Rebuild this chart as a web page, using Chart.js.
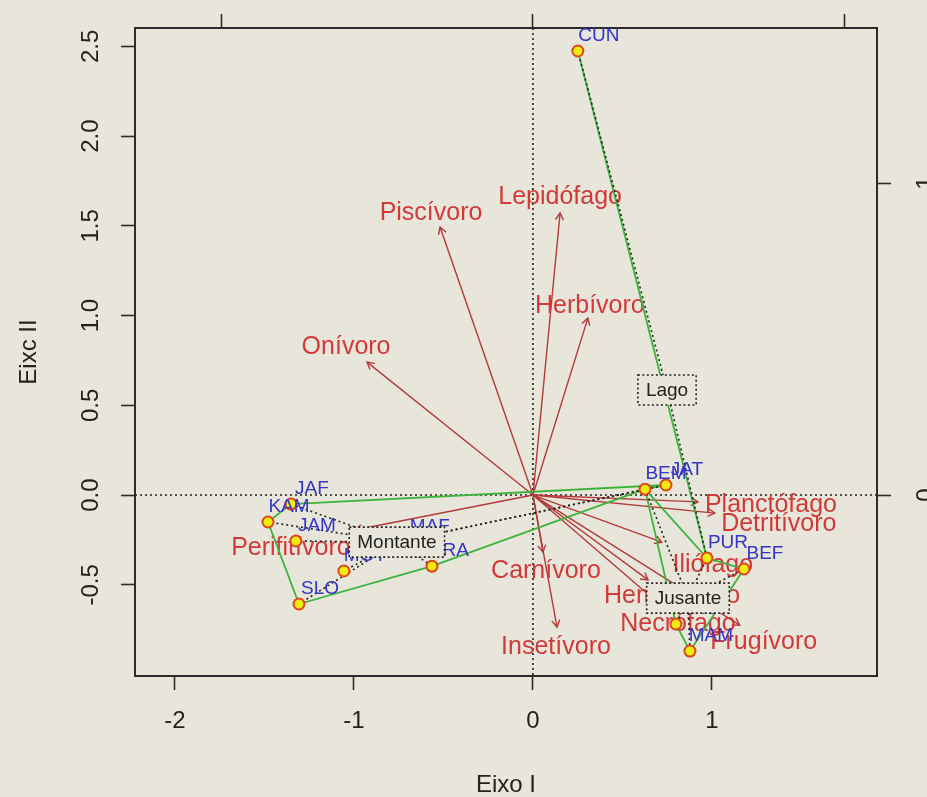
<!DOCTYPE html>
<html>
<head>
<meta charset="utf-8">
<script src="https://cdn.jsdelivr.net/npm/chart.js@4/dist/chart.umd.min.js"></script>
<style>
  html, body { margin: 0; padding: 0; background: #e8e6da; }
  #wrap { width: 927px; height: 797px; position: relative; }
</style>
</head>
<body>
<div id="wrap"><canvas id="c" width="927" height="797"></canvas></div>
<script>
// Site scores on axes I and II
const siteNames = ['CUN', 'BEM', 'JAT', 'PUR', 'BEF', 'MAC', 'MAM', 'KAM', 'JAF', 'JAM', 'MOT', 'SLO', 'IRA', 'MAF'];
const siteX = [0.251, 0.626, 0.743, 0.972, 1.179, 0.799, 0.877, -1.480, -1.352, -1.324, -1.056, -1.307, -0.564, -0.693];
const siteY = [2.474, 0.033, 0.056, -0.351, -0.412, -0.719, -0.869, -0.150, -0.050, -0.256, -0.423, -0.607, -0.396, -0.262];

// Group positions (class centres) on axes I and II
const groupNames = ['Montante', 'Lago', 'Jusante'];
const groupX = [-0.760, 0.749, 0.866];
const groupY = [-0.262, 0.585, -0.574];

// Members of each group, and the outline joining the outer members
const groupMembers = [
  ['KAM', 'JAF', 'JAM', 'MOT', 'SLO', 'IRA', 'MAF', 'BEM', 'JAT'],
  ['CUN', 'PUR'],
  ['BEM', 'PUR', 'BEF', 'MAC', 'MAM']
];
const groupOutline = [
  ['KAM', 'JAF', 'JAT', 'BEM', 'IRA', 'SLO', 'KAM'],
  ['CUN', 'PUR'],
  ['BEM', 'PUR', 'BEF', 'MAM', 'MAC', 'BEM']
];

// Trophic guild vectors (read on the top / right axes)
const guildNames = ['Piscívoro', 'Lepidófago', 'Herbívoro', 'Onívoro', 'Planctófago', 'Detritívoro',
  'Iliófago', 'Hematófago', 'Necrófago', 'Frugívoro', 'Carnívoro', 'Insetívoro', 'Perifitívoro'];
const guildX = [-0.298, 0.087, 0.176, -0.532, 0.529, 0.583, 0.413, 0.369, 0.391, 0.663, 0.032, 0.077, -0.571];
const guildY = [0.859, 0.904, 0.567, 0.426, -0.022, -0.058, -0.151, -0.272, -0.337, -0.417, -0.183, -0.423, -0.112];

// Axis tick labels
const axis1Ticks = [-2, -1, 0, 1];
const axis2Ticks = [-0.5, 0.0, 0.5, 1.0, 1.5, 2.0, 2.5];
const vecTicksX = [-1, 0, 1];
const vecTicksY = [0, 1];

// ---- drawing settings ----
const BG = '#e8e6da';
const FONT = '"Liberation Sans", Arial, sans-serif';
const AXIS_COL = '#2b2b2b';
const RED_LINE = '#b33a3a';
const RED_TEXT = '#d23a3a';
const BLUE_TEXT = '#3434c6';
const GREEN = '#3cb43c';

// label placement around each vector tip, in pixels
const guildLabelShift = [[-9, -14], [0, -16], [2, -12], [-21, -15], [73, 3], [64, 11],
  [51, 23], [24, 16], [23, 24], [24, 17], [3, 19], [-1, 20], [-64, 18]];
const siteLabelShift = [21, -15];

const idx = n => siteNames.indexOf(n);
const pt = n => ({ x: siteX[idx(n)], y: siteY[idx(n)] });

const datasets = [];
datasets.push({
  label: 'sites',
  data: siteNames.map((n, i) => ({ x: siteX[i], y: siteY[i] })),
  pointRadius: 5.5,
  pointBackgroundColor: '#f0ec10',
  pointBorderColor: '#e0441e',
  pointBorderWidth: 2,
  showLine: false,
  order: 0
});
groupOutline.forEach((ring, g) => {
  datasets.push({
    label: 'outline ' + groupNames[g],
    data: ring.map(pt),
    showLine: true,
    borderColor: GREEN,
    borderWidth: 1.8,
    pointRadius: 0,
    fill: false,
    order: 2
  });
});
groupMembers.forEach((mem, g) => {
  mem.forEach(n => {
    datasets.push({
      label: 'star ' + groupNames[g] + ' ' + n,
      data: [{ x: groupX[g], y: groupY[g] }, pt(n)],
      showLine: true,
      borderColor: '#222',
      borderWidth: 1.6,
      borderDash: [2, 3],
      pointRadius: 0,
      fill: false,
      order: 1
    });
  });
});

function arrowHead(ctx, x0, y0, x1, y1, len) {
  const a = Math.atan2(y1 - y0, x1 - x0);
  const s = Math.PI / 6;
  ctx.beginPath();
  ctx.moveTo(x1 - len * Math.cos(a - s), y1 - len * Math.sin(a - s));
  ctx.lineTo(x1, y1);
  ctx.lineTo(x1 - len * Math.cos(a + s), y1 - len * Math.sin(a + s));
  ctx.stroke();
}

const decor = {
  id: 'decor',
  beforeDraw(chart) {
    const c = chart.ctx;
    c.save();
    c.fillStyle = BG;
    c.fillRect(0, 0, chart.width, chart.height);
    c.restore();
  },
  beforeDatasetsDraw(chart) {
    const { ctx, chartArea: a, scales } = chart;
    const { x, y, x2, y2 } = scales;
    ctx.save();
    // dotted lines through the origin
    ctx.strokeStyle = '#222';
    ctx.lineWidth = 1.6;
    ctx.setLineDash([2, 3]);
    const y0 = y.getPixelForValue(0), x0 = x.getPixelForValue(0);
    ctx.beginPath();
    ctx.moveTo(a.left, y0); ctx.lineTo(a.right, y0);
    ctx.moveTo(x0, a.top); ctx.lineTo(x0, a.bottom);
    ctx.stroke();
    ctx.setLineDash([]);

    // guild vectors
    const ox = x2.getPixelForValue(0), oy = y2.getPixelForValue(0);
    ctx.strokeStyle = RED_LINE;
    ctx.lineWidth = 1.4;
    guildNames.forEach((n, i) => {
      const tx = x2.getPixelForValue(guildX[i]);
      const ty = y2.getPixelForValue(guildY[i]);
      ctx.beginPath(); ctx.moveTo(ox, oy); ctx.lineTo(tx, ty); ctx.stroke();
      arrowHead(ctx, ox, oy, tx, ty, 8);
    });
    ctx.font = '25px ' + FONT;
    ctx.fillStyle = RED_TEXT;
    ctx.textAlign = 'center';
    ctx.textBaseline = 'middle';
    guildNames.forEach((n, i) => {
      const tx = x2.getPixelForValue(guildX[i]);
      const ty = y2.getPixelForValue(guildY[i]);
      ctx.fillText(n, tx + guildLabelShift[i][0], ty + guildLabelShift[i][1]);
    });
    ctx.restore();
  },
  afterDatasetsDraw(chart) {
    const { ctx, scales: { x, y } } = chart;
    ctx.save();
    // site labels
    ctx.font = '19px ' + FONT;
    ctx.fillStyle = BLUE_TEXT;
    ctx.textAlign = 'center';
    ctx.textBaseline = 'middle';
    siteNames.forEach((n, i) => {
      ctx.fillText(n, x.getPixelForValue(siteX[i]) + siteLabelShift[0], y.getPixelForValue(siteY[i]) + siteLabelShift[1]);
    });
    // group labels in dotted boxes
    ctx.font = '19px ' + FONT;
    groupNames.forEach((n, g) => {
      const cx = x.getPixelForValue(groupX[g]);
      const cy = y.getPixelForValue(groupY[g]);
      const w = ctx.measureText(n).width + 16;
      const h = 30;
      ctx.fillStyle = BG;
      ctx.fillRect(cx - w / 2, cy - h / 2, w, h);
      ctx.setLineDash([2, 2.5]);
      ctx.strokeStyle = '#222';
      ctx.lineWidth = 1.6;
      ctx.strokeRect(cx - w / 2, cy - h / 2, w, h);
      ctx.setLineDash([]);
      ctx.fillStyle = '#222';
      ctx.fillText(n, cx, cy + 1);
    });
    ctx.restore();
  }
};

const tickFont = { family: FONT, size: 24 };
const gridOpts = { drawOnChartArea: false, drawTicks: true, tickLength: 14, tickColor: AXIS_COL, tickWidth: 1.6 };
const borderOpts = { display: true, color: AXIS_COL, width: 2 };
const fixedTicks = list => function (scale) { scale.ticks = list.map(v => ({ value: v })); };
// fixed margin around the plotting box
const fitBox = (w, h) => function (s) {
  if (w !== null) s.width = w;
  if (h !== null) s.height = h;
  s.paddingTop = 0; s.paddingBottom = 0; s.paddingLeft = 0; s.paddingRight = 0;
};

new Chart(document.getElementById('c'), {
  type: 'scatter',
  data: { datasets },
  plugins: [decor],
  options: {
    responsive: false,
    animation: false,
    devicePixelRatio: 1,
    layout: { padding: 0 },
    plugins: { legend: { display: false }, tooltip: { enabled: false } },
    scales: {
      x: {
        type: 'linear', position: 'bottom', min: -2.223, max: 1.922,
        afterBuildTicks: fixedTicks(axis1Ticks),
        ticks: { font: tickFont, color: '#222', padding: 17, callback: v => String(v) },
        grid: gridOpts, border: borderOpts,
        title: { display: true, text: 'Eixo I', font: { family: FONT, size: 24, lineHeight: 1 }, color: '#222', padding: { top: 0, bottom: 0 } },
        afterFit: fitBox(null, 121)
      },
      y: {
        type: 'linear', position: 'left', min: -1.008, max: 2.602,
        afterBuildTicks: fixedTicks(axis2Ticks),
        ticks: { font: tickFont, color: '#222', padding: 9, minRotation: 90, maxRotation: 90, crossAlign: 'center',
          callback: v => Number(v).toFixed(1) },
        grid: gridOpts, border: borderOpts,
        title: { display: true, text: 'Eixc II', font: { family: FONT, size: 24 }, color: '#222', padding: { top: 15, bottom: 0 } },
        afterFit: fitBox(135, null)
      },
      x2: {
        type: 'linear', position: 'top', min: -1.276, max: 1.103,
        afterBuildTicks: fixedTicks(vecTicksX),
        ticks: { font: tickFont, color: '#222', padding: 17, callback: v => String(v) },
        grid: gridOpts, border: borderOpts,
        afterFit: fitBox(null, 28)
      },
      y2: {
        type: 'linear', position: 'right', min: -0.580, max: 1.497,
        afterBuildTicks: fixedTicks(vecTicksY),
        ticks: { font: tickFont, color: '#222', padding: 29, minRotation: 90, maxRotation: 90, crossAlign: 'center',
          callback: v => String(v) },
        grid: gridOpts, border: borderOpts,
        afterFit: fitBox(50, null)
      }
    }
  }
});
</script>
</body>
</html>
